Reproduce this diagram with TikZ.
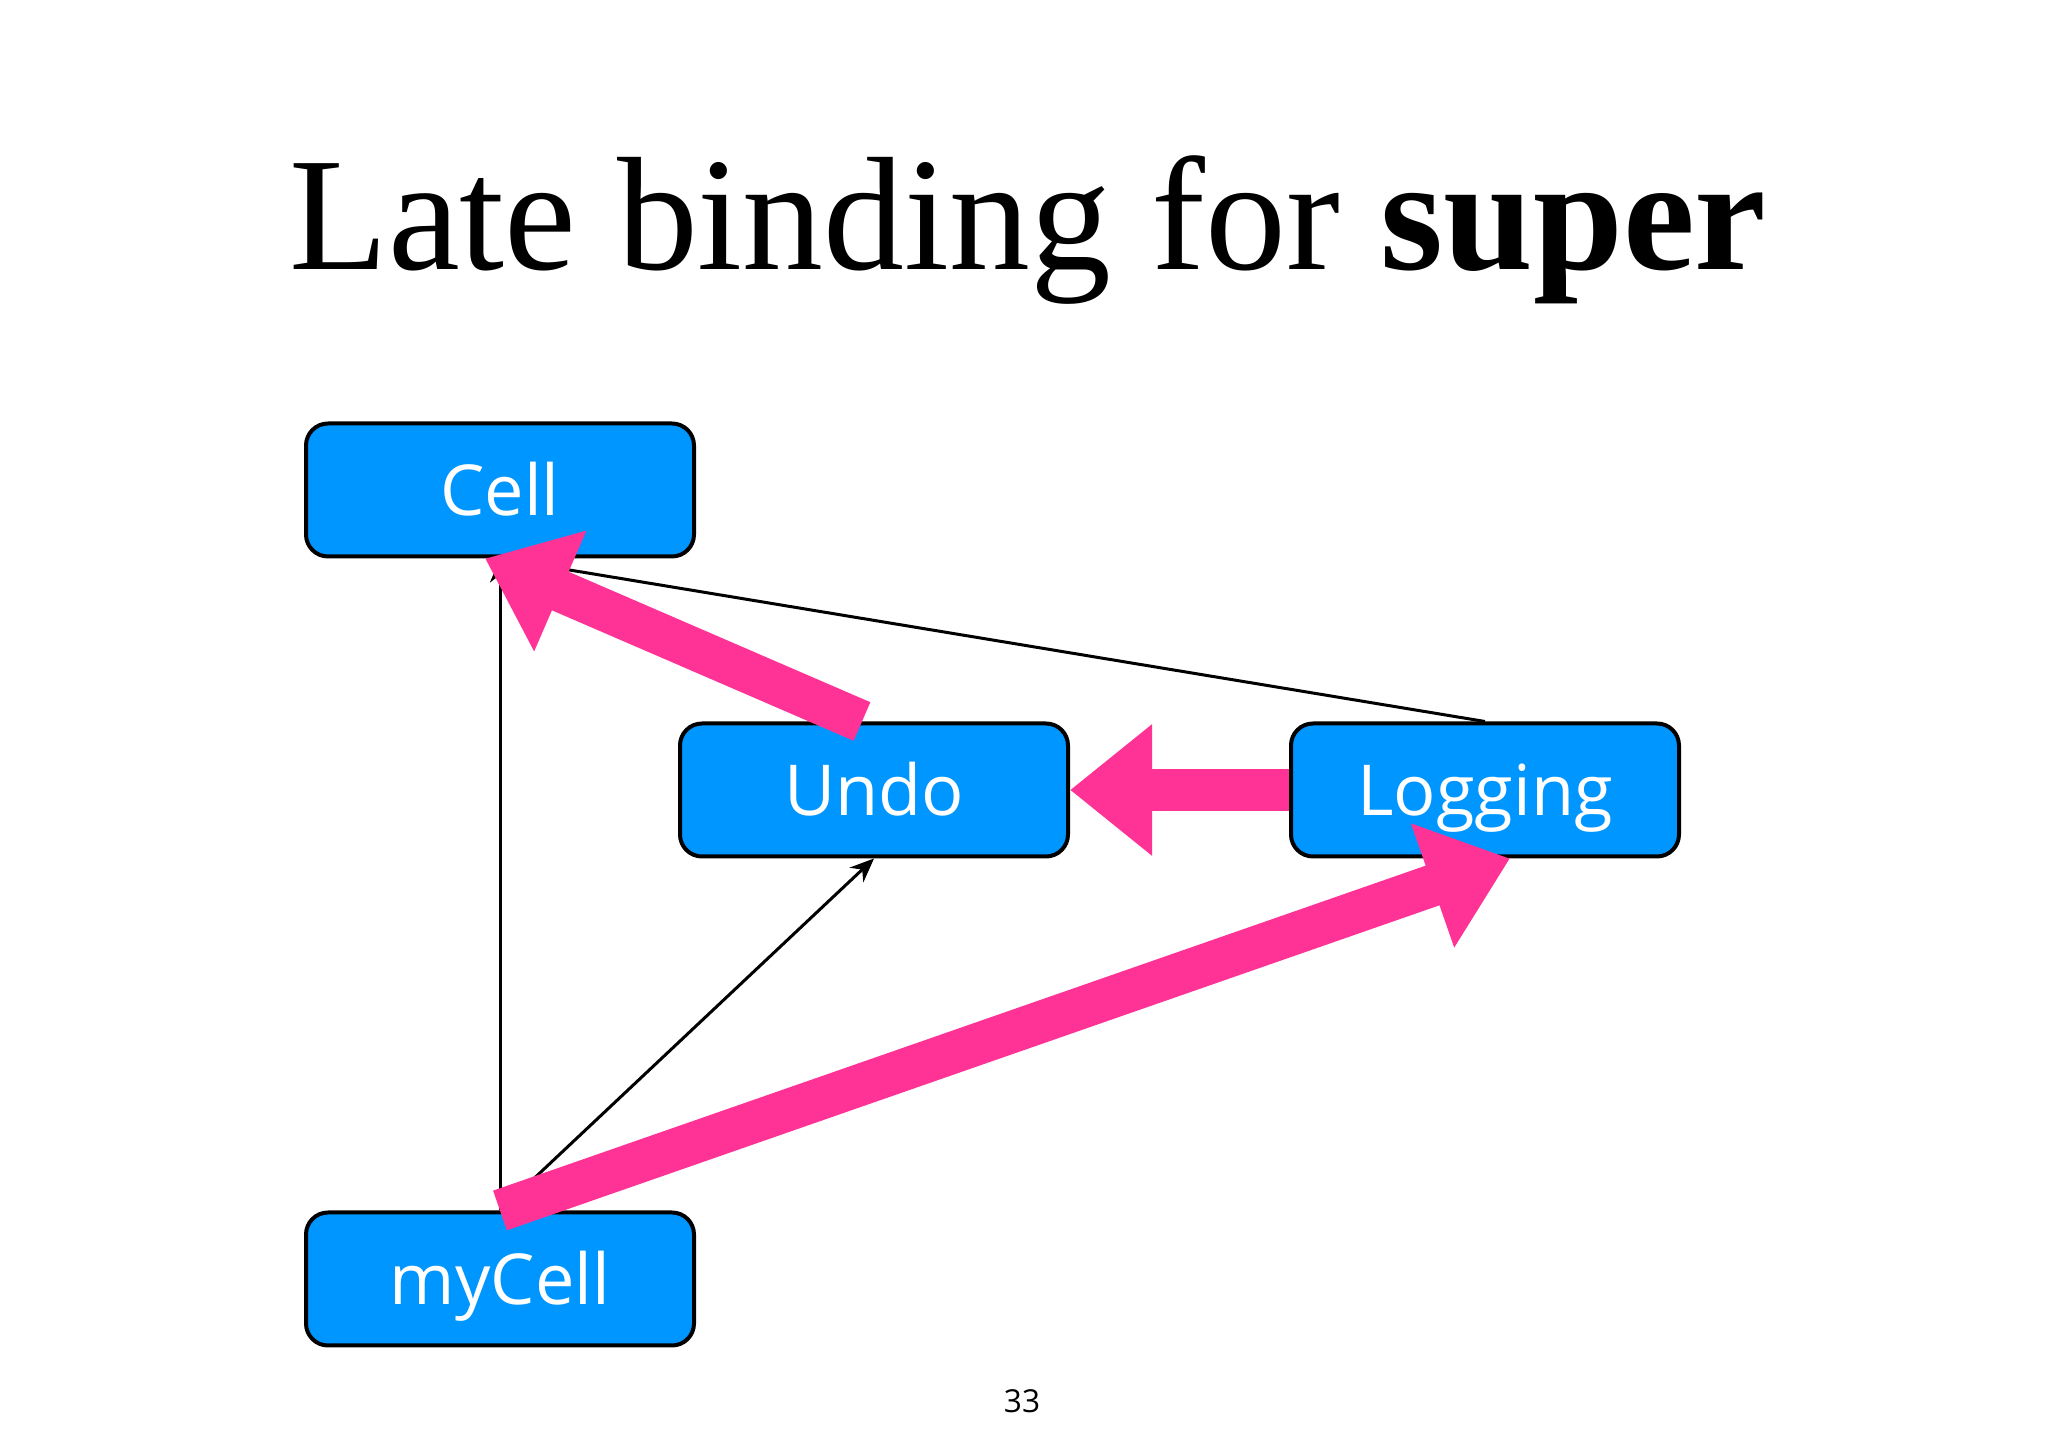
\documentclass[tikz,border=0pt]{standalone}
\usepackage{fontspec}
\setmainfont{Liberation Serif}
\newfontfamily\boxfont{Open Sans}
\usetikzlibrary{arrows.meta}
\definecolor{boxblue}{RGB}{0,150,255}
\definecolor{superpink}{RGB}{255,50,150}

\begin{document}
\begin{tikzpicture}[
        cls/.style={draw=black, line width=.04cm, fill=boxblue, rounded corners=.22cm,
            minimum width=3.88cm, minimum height=1.33cm, inner sep=0pt, text=white,
            font={\boxfont\fontsize{20pt}{24pt}\selectfont}, text height=.51cm, text depth=0pt},
        inherit/.style={line width=.03cm, draw=black, -{Stealth[length=.24cm, width=.2cm]}},
        lookup/.style={line width=.42cm, draw=superpink, -{Triangle[length=.82cm, width=1.26cm]}},
    ]
    % slide frame
    \useasboundingbox (0,0) rectangle (20.48,-14.47);

    % title
    \node[anchor=base, font={\fontsize{46pt}{50pt}\selectfont}] (title) at (10.28, -2.70)
        {Late binding for \textbf{super}};

    % the classes
    \node[cls] (Cell) at (5.00, -4.90) {Cell};
    \node[cls] (Undo) at (8.74, -7.90) {Undo};
    \node[cls] (Logging) at (14.85, -7.90) {Logging};
    \node[cls] (myCell) at (5.00, -12.79) {myCell};

    % superclass links
    \draw[inherit] (myCell.north) -- (Cell.south);
    \draw[inherit] (myCell.north) -- (Undo.south);
    \draw[inherit] (Logging.north) -- (Cell.south);

    % lookup order of super
    \draw[lookup] ([xshift=-.12cm]Undo.north) -- ([xshift=-.15cm]Cell.south);
    \draw[lookup] (Logging.west) -- (Undo.east);
    \draw[lookup] (myCell.north) -- ([xshift=.25cm]Logging.south);

    % page number
    \node[font={\boxfont\fontsize{9pt}{11pt}\selectfont}] (page) at (10.22, -14.01) {33};
\end{tikzpicture}
\end{document}
